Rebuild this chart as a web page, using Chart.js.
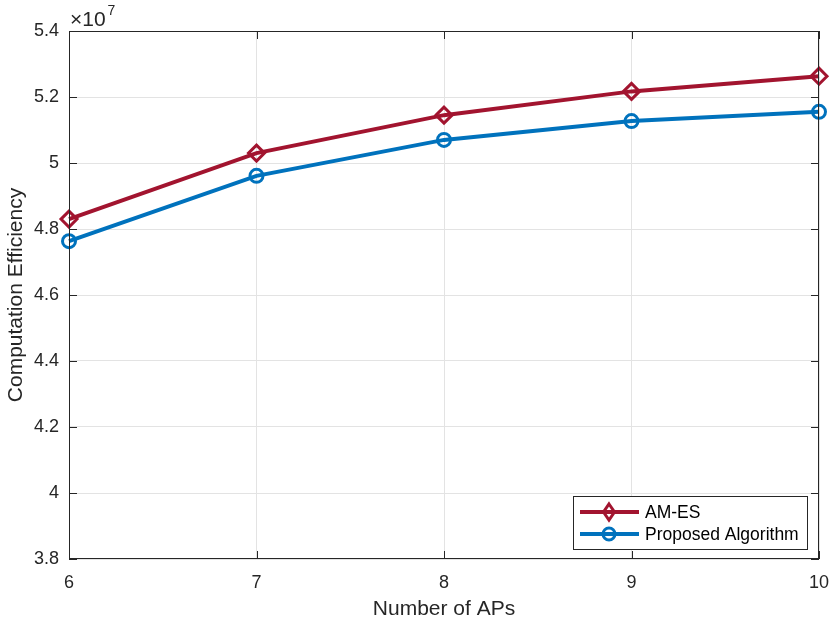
<!DOCTYPE html>
<html>
<head>
<meta charset="utf-8">
<script src="https://cdn.jsdelivr.net/npm/chart.js@4/dist/chart.umd.min.js"></script>
<style>
  html, body { margin: 0; padding: 0; background: #fff; }
  #wrap { width: 830px; height: 623px; }
</style>
</head>
<body>
<div id="wrap"><canvas id="c" width="830" height="623"></canvas></div>
<script>
// number of APs
const aps = [6, 7, 8, 9, 10];
// computation efficiency, in units of 1e7
const amEs = [4.830, 5.030, 5.145, 5.217, 5.263];
const proposed = [4.763, 4.961, 5.070, 5.127, 5.155];
const yTicks = [3.8, 4.0, 4.2, 4.4, 4.6, 4.8, 5.0, 5.2, 5.4];

const FONT = "'Liberation Sans', Arial, sans-serif";
const AXIS = "#262626";

// MATLAB-like box, inward ticks, exponent label and legend
const boxPlugin = {
  id: "box",
  afterDatasetsDraw(chart) {
    const { ctx, chartArea: a, scales } = chart;
    ctx.save();
    ctx.strokeStyle = AXIS;
    ctx.lineWidth = 1;
    ctx.strokeRect(a.left + 0.5, a.top + 0.5, a.width - 1, a.height - 1);
    ctx.beginPath();
    aps.forEach(v => {
      const x = Math.round(scales.x.getPixelForValue(v)) + 0.5;
      ctx.moveTo(x, a.bottom); ctx.lineTo(x, a.bottom - 8);
      ctx.moveTo(x, a.top); ctx.lineTo(x, a.top + 8);
    });
    yTicks.forEach(v => {
      const y = Math.round(scales.y.getPixelForValue(v)) + 0.5;
      ctx.moveTo(a.left, y); ctx.lineTo(a.left + 8, y);
      ctx.moveTo(a.right, y); ctx.lineTo(a.right - 8, y);
    });
    ctx.stroke();

    // exponent
    ctx.fillStyle = AXIS;
    ctx.font = "21px " + FONT;
    ctx.textBaseline = "alphabetic";
    ctx.fillText("\u00d710", a.left + 1, a.top - 5);
    const w = ctx.measureText("\u00d710").width;
    ctx.font = "14px " + FONT;
    ctx.fillText("7", a.left + w + 3, a.top - 16);

    // legend
    const lx = 573, ly = 496, lw = 234, lh = 53;
    ctx.fillStyle = "#fff";
    ctx.fillRect(lx, ly, lw, lh);
    ctx.lineWidth = 1;
    ctx.strokeStyle = AXIS;
    ctx.strokeRect(lx + 0.5, ly + 0.5, lw, lh);
    chart.data.datasets.forEach((ds, i) => {
      const y = ly + 16 + i * 22;
      ctx.strokeStyle = ds.borderColor;
      ctx.lineWidth = 4;
      ctx.beginPath();
      ctx.moveTo(lx + 7, y); ctx.lineTo(lx + 66, y);
      ctx.stroke();
      ctx.lineWidth = 3;
      ctx.beginPath();
      const cx = lx + 36;
      if (ds.pointStyle === "circle") {
        ctx.arc(cx, y, 6, 0, Math.PI * 2);
      } else {
        ctx.moveTo(cx, y - 8); ctx.lineTo(cx + 5.5, y); ctx.lineTo(cx, y + 8);
        ctx.lineTo(cx - 5.5, y); ctx.closePath();
      }
      ctx.stroke();
      ctx.fillStyle = "#000";
      ctx.font = "17.5px " + FONT;
      ctx.textBaseline = "middle";
      ctx.fillText(ds.label, lx + 72, y + 1);
    });
    ctx.restore();
  }
};

new Chart(document.getElementById("c"), {
  type: "line",
  data: {
    labels: aps,
    datasets: [
      {
        label: "AM-ES",
        data: amEs,
        borderColor: "#A2142F",
        backgroundColor: "rgba(0,0,0,0)",
        borderWidth: 4,
        pointStyle: "rectRot",
        pointRadius: 8,
        pointBorderWidth: 3,
        pointBackgroundColor: "rgba(0,0,0,0)",
        tension: 0,
        clip: false
      },
      {
        label: "Proposed Algorithm",
        data: proposed,
        borderColor: "#0072BD",
        backgroundColor: "rgba(0,0,0,0)",
        borderWidth: 4,
        pointStyle: "circle",
        pointRadius: 6.5,
        pointBorderWidth: 3,
        pointBackgroundColor: "rgba(0,0,0,0)",
        tension: 0,
        clip: false
      }
    ]
  },
  options: {
    responsive: false,
    animation: false,
    layout: { padding: { left: 0, top: 31, right: 10, bottom: 0 } },
    plugins: {
      legend: { display: false },
      tooltip: { enabled: false }
    },
    scales: {
      x: {
        type: "linear",
        min: 6,
        max: 10,
        afterBuildTicks: s => { s.ticks = aps.map(v => ({ value: v })); },
        afterFit: s => { s.height = 64; s.paddingLeft = 0; s.paddingRight = 0; },
        grid: { color: "#e3e3e3", tickLength: 0, drawTicks: false },
        border: { display: false },
        ticks: { color: AXIS, font: { family: FONT, size: 18 }, padding: 13 },
        title: {
          display: true,
          text: "Number of APs",
          color: AXIS,
          font: { family: FONT, size: 21 },
          padding: { top: 3, bottom: 1 }
        }
      },
      y: {
        min: 3.8,
        max: 5.4,
        afterBuildTicks: s => { s.ticks = yTicks.map(v => ({ value: v })); },
        afterFit: s => { s.width = 69; s.paddingTop = 0; s.paddingBottom = 0; },
        grid: { color: "#e3e3e3", tickLength: 0, drawTicks: false },
        border: { display: false },
        ticks: {
          color: AXIS,
          font: { family: FONT, size: 18 },
          padding: 10,
          callback: v => String(Number(v.toFixed(1)))
        },
        title: {
          display: true,
          text: "Computation Efficiency",
          color: AXIS,
          font: { family: FONT, size: 21 },
          padding: { bottom: 2 }
        }
      }
    }
  },
  plugins: [boxPlugin]
});
</script>
</body>
</html>
